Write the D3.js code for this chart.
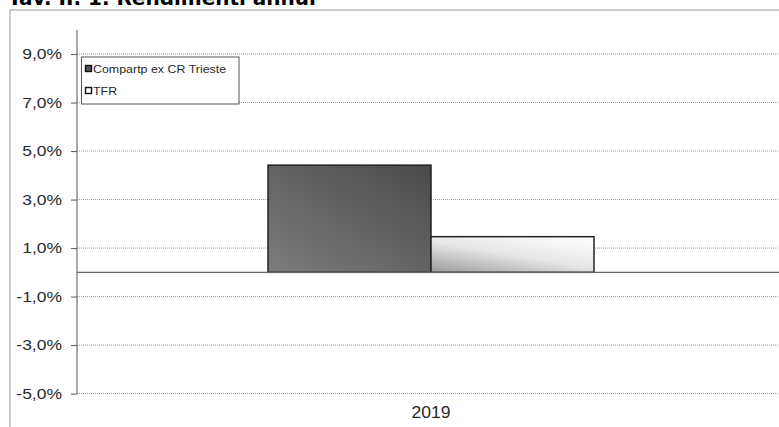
<!DOCTYPE html>
<html><head><meta charset="utf-8">
<script src="https://cdn.jsdelivr.net/npm/d3@7"></script>
<style>body{margin:0;background:#fff}svg{display:block}</style>
</head><body>
<svg id="c" width="779" height="427"></svg>
<script>
const categories = ["2019"];
const seriesNames = ["Compartp ex CR Trieste", "TFR"];
const seriesValues = [[4.42], [1.47]];
const tickValues = [-5, -3, -1, 1, 3, 5, 7, 9];
const title = "Tav. II. 1. Rendimenti annui";

const FONT = "Liberation Sans, Arial, sans-serif";
const svg = d3.select("#c");
const defs = svg.append("defs");
const g1 = defs.append("linearGradient").attr("id","g0").attr("x1","0").attr("y1","1").attr("x2","1").attr("y2","0");
g1.append("stop").attr("offset","0").attr("stop-color","#7c7c7c");
g1.append("stop").attr("offset","1").attr("stop-color","#4a4a4a");
const g2 = defs.append("linearGradient").attr("id","g1").attr("x1","0").attr("y1","1").attr("x2","0.75").attr("y2","0");
g2.append("stop").attr("offset","0").attr("stop-color","#9a9a9a");
g2.append("stop").attr("offset","0.55").attr("stop-color","#e6e6e6");
g2.append("stop").attr("offset","1").attr("stop-color","#fbfbfb");
const fills = ["url(#g0)","url(#g1)"];

// title (cut off at top, as in the reference)
svg.append("text").attr("x",8).attr("y",5).attr("font-family","DejaVu Sans").attr("font-weight","bold")
  .attr("font-size",20).attr("fill","#000").text(title);

// outer frame
svg.append("rect").attr("x",10).attr("y",10).attr("width",800).attr("height",440)
  .attr("fill","none").attr("stroke","#aaa").attr("stroke-width",1.2);

const left = 77, right = 785;
const y = d3.scaleLinear().domain([-5, 10]).range([393.6, 29.8]);
const x0 = d3.scaleBand().domain(categories).range([left, right]).paddingInner(0).paddingOuter(0.586);
const x1 = d3.scaleBand().domain(seriesNames.map((d,i)=>i)).range([0, x0.bandwidth()]);

// gridlines
svg.append("g").selectAll("line").data(tickValues).join("line")
  .attr("x1", left).attr("x2", right).attr("y1", d=>y(d)).attr("y2", d=>y(d))
  .attr("stroke","#999").attr("stroke-width",1).attr("stroke-dasharray","1,1");

// y axis
const sx = 1.25;
const yAxis = d3.axisLeft(y).tickValues(tickValues).tickSize(6)
  .tickFormat(d => d3.format(".1f")(d).replace(".", ",").replace("\u2212", "-") + "%");
const ya = svg.append("g").attr("transform",`translate(${left},0)`).call(yAxis);
ya.select(".domain").attr("stroke","#555").attr("d",`M0,${y(10)}V${y(-5)}`);
ya.selectAll(".tick line").attr("stroke","#555").attr("x1",-6).attr("x2",0);
ya.selectAll(".tick text").attr("font-family",FONT).attr("font-size",14)
  .attr("fill","#2a2a2a").attr("x",-15/sx).attr("transform",`scale(${sx},1)`);

// bars
const bars = svg.append("g");
categories.forEach((c, ci) => {
  seriesNames.forEach((s, si) => {
    const v = seriesValues[si][ci];
    bars.append("rect")
      .attr("x", x0(c) + x1(si)).attr("width", x1.bandwidth())
      .attr("y", y(Math.max(0, v))).attr("height", Math.abs(y(v) - y(0)))
      .attr("fill", fills[si]).attr("stroke","#222").attr("stroke-width",1.5);
  });
});

// zero line
svg.append("line").attr("x1",left).attr("x2",right).attr("y1",y(0)).attr("y2",y(0))
  .attr("stroke","#666").attr("stroke-width",1.2);

// x labels
svg.append("g").selectAll("g").data(categories).join("g")
  .attr("transform", d => `translate(${x0(d) + x0.bandwidth()/2},418) scale(1.1,1)`)
  .append("text").attr("text-anchor","middle")
  .attr("font-family",FONT).attr("font-size",16).attr("fill","#2a2a2a").text(d=>d);

// legend
const lg = svg.append("g");
lg.append("rect").attr("x",81.5).attr("y",57).attr("width",157.5).attr("height",47)
  .attr("fill","#fff").attr("stroke","#555").attr("stroke-width",1);
seriesNames.forEach((s, i) => {
  const yy = 69 + i*22;
  lg.append("rect").attr("x",85.5).attr("y",yy-3.5).attr("width",6).attr("height",6)
    .attr("fill", i===0 ? "#555" : "#fff").attr("stroke","#111").attr("stroke-width",1.4);
  lg.append("g").attr("transform",`translate(93,${yy+4}) scale(1.13,1)`)
    .append("text").attr("font-family",FONT)
    .attr("font-size",11).attr("fill","#2a2a2a").text(s);
});
</script>
</body></html>
